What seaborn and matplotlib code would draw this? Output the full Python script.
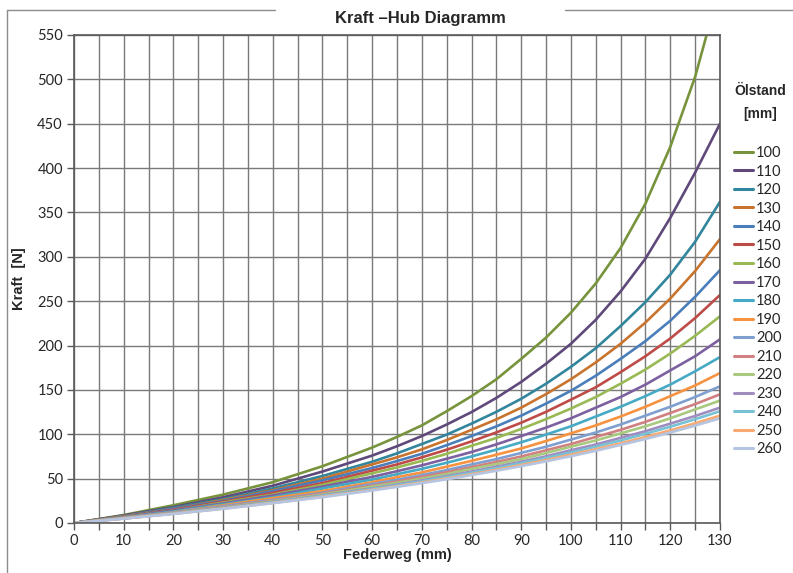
import numpy as np
import pandas as pd
import seaborn as sns
import matplotlib.pyplot as plt
from matplotlib.lines import Line2D

# Federweg (mm) und Kraft (N) je Ölstand
federweg = [0, 10, 20, 30, 40, 50, 60, 65, 70, 75, 80, 85, 90, 95, 100, 105, 110, 115, 120, 125, 130]

f100 = [0, 9, 20, 32, 46, 64, 85, 97, 110, 126, 143, 162, 185, 209, 237, 270, 310, 360, 424, 503, 605]
f110 = [0, 8.5, 18, 29, 42, 58, 76, 86.5, 98, 111, 125, 141, 159, 179.5, 202, 229, 261, 298, 344, 395, 450]
f120 = [0, 7.9, 17, 27, 39, 53, 69, 78.5, 89, 99.6, 112, 125.3, 140, 157, 176, 197, 222, 249, 280, 317, 362]
f130 = [0, 7.6, 16, 26, 37, 50, 66, 74, 83, 93.5, 105, 116.8, 130, 145.3, 162, 181, 202, 226, 253, 284, 320]
f140 = [0, 7.3, 16, 25, 36, 48, 62, 69.8, 78, 87.7, 98, 108.9, 121, 134.6, 149, 166, 185, 205, 228, 255, 285]
f150 = [0, 7.1, 15, 24, 34, 45, 59, 66, 74, 82.6, 92, 102.1, 113, 125.3, 139, 153, 170, 188, 208, 231, 257]
f160 = [0, 6.8, 14, 23, 32, 43, 56, 62.6, 70, 78, 87, 95.9, 106, 117.1, 129, 142, 157, 173, 191, 211, 233]
f170 = [0, 6.5, 14, 22, 31, 41, 52, 58.4, 65, 72.4, 80, 88.6, 98, 107.5, 118, 130, 142, 156, 172, 188, 207]
f180 = [0, 6.2, 13, 21, 29, 39, 49, 55, 61, 67.9, 75, 82.7, 91, 99.7, 109, 120, 131, 143, 156, 171, 187]
f190 = [0, 5.9, 12, 20, 28, 36, 46, 51.7, 57, 63.5, 70, 77, 84, 92.4, 101, 110, 120, 131, 143, 155, 169]
f200 = [0, 5.6, 12, 19, 26, 34, 44, 48.7, 54, 59.6, 66, 72, 79, 86, 94, 102, 111, 121, 131, 142, 154]
f210 = [0, 5.5, 11.5, 18, 25, 33, 42, 46.8, 52, 57.2, 63, 68.8, 75, 82, 89, 97, 105, 114, 124, 134, 145]
f220 = [0, 5.3, 11.2, 17.5, 24.5, 32, 41, 45.3, 50, 55.2, 61, 66.4, 72, 78.9, 86, 93, 101, 109, 118, 128, 138]
f230 = [0, 5.2, 10.8, 17, 23.7, 31, 39, 43.5, 48, 52.9, 58, 63.5, 69, 75.2, 82, 88.5, 96, 103.5, 112, 120.6, 130]
f240 = [0, 5.1, 10.6, 16.6, 23.2, 30.4, 38.3, 42.6, 47, 51.7, 56.7, 61.9, 67.5, 73.3, 79.5, 86, 93, 100.6, 108.5, 117, 126]
f250 = [0, 5, 10.4, 16.2, 22.6, 29.6, 37.3, 41.4, 45.7, 50.2, 55, 60, 65.4, 71, 77, 83.2, 89.8, 97, 104.4, 112.4, 121]
f260 = [0, 4.9, 10.2, 16, 22.3, 29.1, 36.6, 40.7, 44.9, 49.3, 54, 58.9, 64.1, 69.5, 75.3, 81.4, 88, 94.7, 102, 109.8, 118]

oelstand = ["100", "110", "120", "130", "140", "150", "160", "170", "180",
            "190", "200", "210", "220", "230", "240", "250", "260"]
kraefte = [f100, f110, f120, f130, f140, f150, f160, f170, f180,
           f190, f200, f210, f220, f230, f240, f250, f260]

farben = ["#77933C", "#5F497A", "#31859C", "#C8742E", "#4A7EBB", "#BE4B48",
          "#98B954", "#7D60A0", "#46AAC5", "#F69240", "#7F9FD0", "#D08080",
          "#A8C97F", "#A08DC0", "#79C2D6", "#F9AA73", "#B4C4E1"]

rows = []
for o, f in zip(oelstand, kraefte):
    for x, y in zip(federweg, f):
        rows.append({"Federweg": x, "Kraft": y, "Ölstand": o})
df = pd.DataFrame(rows)

sns.set_style("white")
plt.rcParams['font.family'] = ['Liberation Sans', 'DejaVu Sans']

fig = plt.figure(figsize=(7.93, 5.73), dpi=100)
ax = fig.add_axes([74/793, 1-523/573, (720-74)/793, (523-35)/573])

sns.lineplot(data=df, x="Federweg", y="Kraft", hue="Ölstand", hue_order=oelstand,
             palette=dict(zip(oelstand, farben)), linewidth=1.9, ax=ax, legend=False)

ax.set_xlim(0, 130)
ax.set_ylim(0, 550)
ax.set_xticks(np.arange(0, 131, 10))
ax.set_xticks(np.arange(0, 131, 5), minor=True)
ax.set_yticks(np.arange(0, 551, 50))
ax.grid(True, which="both", axis="x", color="#7a7a7a", linewidth=1)
ax.grid(True, which="major", axis="y", color="#7a7a7a", linewidth=1)
ax.set_axisbelow(True)
for s in ax.spines.values():
    s.set_color("#595959")
    s.set_linewidth(1.2)
ax.tick_params(axis="both", which="both", direction="out", length=5, width=1,
               color="#595959", labelsize=10.5, pad=3)
ax.tick_params(axis="x", which="both", bottom=True)
ax.tick_params(axis="y", left=True)
for lab in ax.get_xticklabels() + ax.get_yticklabels():
    lab.set_family(["Lato", "DejaVu Sans"])

ax.set_xlabel("Federweg (mm)", fontsize=10.5, fontweight="bold", labelpad=0)
ax.set_ylabel("Kraft  [N]", fontsize=10.5, fontweight="bold", labelpad=8)

fig.text(420/793, 1-18/573, "Kraft \u2013Hub Diagramm", ha="center", va="center",
         fontsize=12, fontweight="bold")

# Legende
fig.text(760/793, 1-91/573, "Ölstand", ha="center", va="center", fontsize=10, fontweight="bold")
fig.text(760/793, 1-114/573, "[mm]", ha="center", va="center", fontsize=10, fontweight="bold")
handles = [Line2D([], [], color=c, linewidth=2.2) for c in farben]
leg = fig.legend(handles, oelstand, loc="upper left", bbox_to_anchor=(734/793, 1-146/573),
                 frameon=False, fontsize=10.5, handlelength=1.3, handletextpad=0.2,
                 labelspacing=0.31, borderaxespad=0, borderpad=0)
for t in leg.get_texts():
    t.set_family(["Lato", "DejaVu Sans"])

# Rahmen des Diagramms
fig.add_artist(Line2D([7/793, 275/793], [1-10/573, 1-10/573], color="#8c8c8c", lw=1))
fig.add_artist(Line2D([565/793, 1], [1-10/573, 1-10/573], color="#8c8c8c", lw=1))
fig.add_artist(Line2D([7/793, 7/793], [1-10/573, 0], color="#8c8c8c", lw=1))

fig.savefig("out.png", dpi=100)
